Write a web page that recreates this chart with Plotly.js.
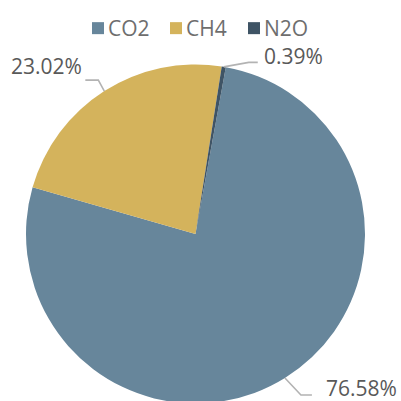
<!DOCTYPE html>
<html><head><meta charset="utf-8">
<script src="https://cdn.plot.ly/plotly-3.0.1.min.js"></script>
<style>html,body{margin:0;padding:0;overflow:hidden;background:#fff}</style>
</head><body><div id="chart" style="width:401px;height:420px"></div>
<script>
// ---- data ----
const gases = ['CO2', 'CH4', 'N2O'];
const shares = [76.58, 23.02, 0.39];
const shareLabels = ['76.58%', '23.02%', '0.39%'];
const colors = ['#67869b', '#d4b35c', '#3f5465'];

// ---- layout / style ----
const W = 401, H = 420;
const cx = 195.5, cy = 234, R = 169.5;
const rotation = 10.3;
// leader line style per slice: first segment [dx,dy], horizontal length, text gap, text dy
const leader = [
  {d1: [16, 17], d2: 11, gap: 12, ty: -6.5},
  {d1: [-6, -11], d2: 13, gap: 1, ty: -14},
  {d1: [25, -4.5], d2: 9, gap: 4, ty: -6.5}
];

const px = x => x / W, py = y => 1 - y / H;
const total = shares.reduce((a, b) => a + b, 0);
const shapes = [], annotations = [];
let cum = 0;
shares.forEach((v, i) => {
  const mid = (rotation + (cum + v / 2) / total * 360) * Math.PI / 180;
  cum += v;
  const x0 = cx + R * Math.sin(mid), y0 = cy - R * Math.cos(mid);
  const L = leader[i];
  const x1 = x0 + L.d1[0], y1 = y0 + L.d1[1];
  const side = Math.sin(mid) >= 0 ? 1 : -1;
  const x2 = x1 + side * L.d2, y2 = y1;
  shapes.push({type: 'path', xref: 'paper', yref: 'paper',
    path: `M${px(x0)},${py(y0)} L${px(x1)},${py(y1)} L${px(x2)},${py(y2)}`,
    line: {color: '#b3b3b3', width: 1.6}});
  annotations.push({xref: 'paper', yref: 'paper', x: px(x2 + side * L.gap), y: py(y2 + L.ty),
    xanchor: side > 0 ? 'left' : 'right', yanchor: 'middle', showarrow: false,
    text: shareLabels[i], font: {family: 'Open Sans, sans-serif', size: 21, color: '#595959'}});
});

const trace = {
  type: 'pie', labels: gases, values: shares, sort: false, direction: 'clockwise',
  rotation: rotation, textinfo: 'none', hoverinfo: 'label+percent',
  marker: {colors: colors, line: {width: 0}},
  domain: {x: [px(cx - R), px(cx + R)], y: [py(cy + R), py(cy - R)]}
};

const layout = {
  width: W, height: H, margin: {l: 0, r: 0, t: 0, b: 0},
  paper_bgcolor: '#fff', plot_bgcolor: '#fff',
  showlegend: true,
  legend: {orientation: 'h', x: px(68), xanchor: 'left', y: 1 - 8 / H, yanchor: 'top',
    entrywidth: 33, entrywidthmode: 'pixels',
    font: {family: 'Open Sans, sans-serif', size: 21, color: '#6e6e6e'}, traceorder: 'normal'},
  shapes: shapes, annotations: annotations
};
Plotly.newPlot('chart', [trace], layout, {displayModeBar: false, staticPlot: true}).then(gd => {
  // bring legend swatches closer to their text, as in the original, and let the last entry show fully
  gd.querySelectorAll('.legend .legendpoints').forEach(g => g.setAttribute('transform', 'translate(10,0)'));
  gd.querySelectorAll('.legend [clip-path]').forEach(g => g.removeAttribute('clip-path'));
});
</script></body></html>
